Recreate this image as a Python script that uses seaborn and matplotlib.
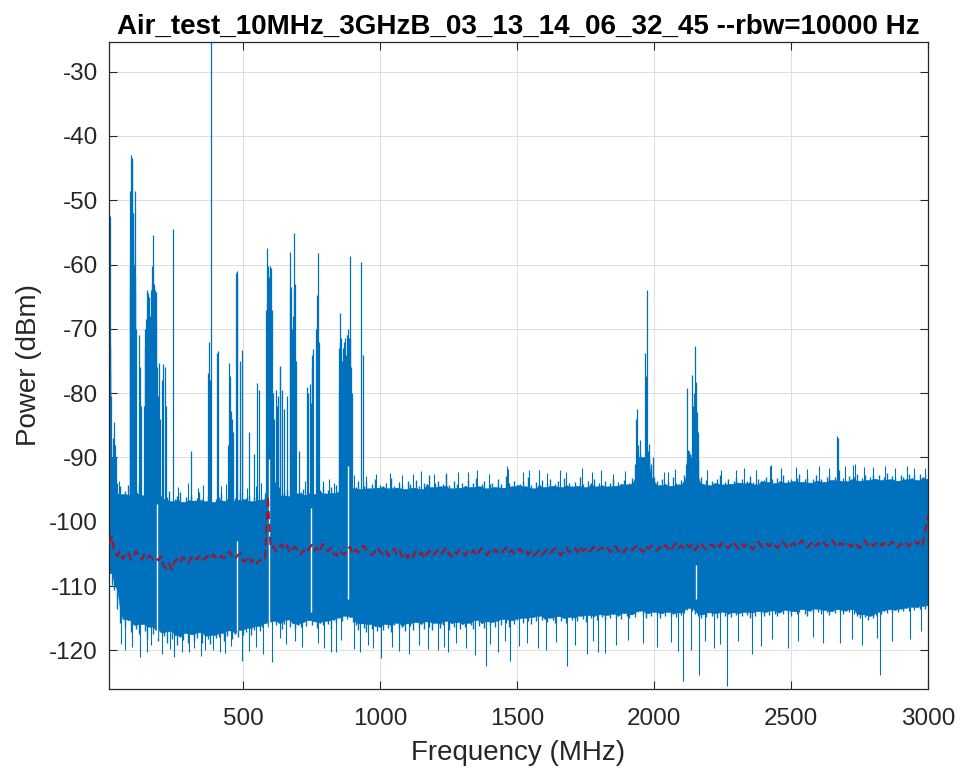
import numpy as np
import matplotlib
matplotlib.use("Agg")
import matplotlib.pyplot as plt
import seaborn as sns

# ---------------- data ----------------
# envelope of the dense spectrum trace, one value every 10 MHz (10 ... 3000 MHz)
freq_mhz = np.arange(10, 3001, 10)

band_hi = [
    -91.5, -93.5, -94.2, -95.6, -94.4, -95.7, -95.2, -94.3, -95.8, -95.4,
    -95.1, -94.2, -95.9, -95.6, -94.8, -96.1, -95.3, -95.8, -94.6, -96.0,
    -96.5, -96.1, -95.2, -96.8, -96.4, -96.0, -95.4, -96.9, -96.2, -96.6,
    -95.9, -96.7, -96.3, -95.3, -96.5, -96.8, -96.0, -95.6, -96.9, -96.4,
    -96.2, -95.5, -96.7, -96.4, -96.9, -95.7, -96.3, -96.6, -95.4, -96.5,
    -96.3, -95.8, -96.8, -96.1, -95.5, -96.6, -96.4, -95.6, -95.9, -95.4,
    -95.1, -95.7, -94.6, -95.9, -95.4, -95.0, -96.0, -95.3, -94.7, -95.6,
    -95.4, -94.9, -95.8, -95.5, -94.6, -95.7, -95.2, -95.0, -94.4, -95.6,
    -95.0, -94.6, -95.5, -94.3, -95.2, -94.8, -95.4, -94.5, -93.9, -94.8,
    -94.6, -93.7, -94.9, -94.4, -93.6, -94.8, -94.2, -93.4, -94.7, -94.3,
    -94.5, -93.9, -94.8, -93.2, -94.4, -94.7, -93.8, -94.3, -94.9, -93.6,
    -94.2, -94.7, -93.5, -94.4, -94.9, -93.9, -94.1, -92.8, -94.6, -94.0,
    -93.7, -94.5, -94.1, -92.6, -94.3, -94.8, -93.6, -94.2, -94.7, -93.9,
    -94.4, -93.5, -94.6, -94.0, -93.2, -94.5, -94.1, -93.7, -94.8, -94.2,
    -93.9, -94.6, -93.4, -94.2, -94.7, -92.9, -94.0, -94.5, -93.6, -94.3,
    -94.1, -93.6, -94.5, -93.0, -94.3, -94.8, -93.8, -94.2, -93.5, -94.6,
    -94.0, -93.3, -94.4, -94.1, -93.7, -94.6, -93.2, -94.3, -93.9, -94.5,
    -93.8, -94.4, -93.1, -94.2, -94.6, -93.7, -94.0, -93.4, -94.5, -93.9,
    -94.3, -93.6, -94.5, -94.0, -93.3, -94.4, -93.8, -94.1, -93.5, -94.2,
    -94.0, -93.2, -91.0, -89.8, -89.4, -89.9, -89.1, -90.2, -91.1, -93.0,
    -93.7, -94.3, -93.4, -94.1, -93.6, -94.4, -93.1, -93.9, -94.2, -93.5,
    -92.8, -90.6, -89.5, -89.3, -89.6, -90.4, -93.0, -94.1, -93.5, -94.3,
    -93.6, -94.0, -93.3, -92.7, -94.2, -93.8, -93.4, -94.1, -93.7, -93.2,
    -93.9, -93.4, -94.0, -93.6, -92.9, -93.8, -94.2, -93.3, -93.7, -93.5,
    -93.1, -93.8, -93.4, -94.0, -93.2, -93.6, -92.8, -93.9, -93.5, -93.3,
    -93.7, -93.2, -92.6, -93.8, -93.4, -93.0, -93.9, -93.3, -92.8, -93.6,
    -93.3, -93.8, -93.0, -92.7, -93.5, -93.1, -92.1, -93.6, -93.2, -93.7,
    -92.9, -93.4, -93.1, -92.5, -93.6, -93.2, -92.8, -93.5, -93.0, -92.7,
    -93.3, -92.8, -93.5, -93.1, -92.4, -93.4, -92.9, -93.2, -93.6, -92.7,
    -93.0, -93.4, -92.6, -93.2, -92.8, -93.5, -92.5, -93.1, -92.9, -93.3,
]

band_lo = [
    -108.0, -109.8, -110.6, -113.5, -115.8, -115.1, -116.4, -115.3, -117.1, -116.0,
    -116.6, -117.4, -115.9, -117.0, -118.2, -116.3, -117.5, -116.8, -118.6, -117.2,
    -117.8, -118.9, -117.0, -118.3, -117.6, -119.1, -117.9, -118.4, -117.3, -118.8,
    -117.5, -118.6, -118.0, -117.2, -118.9, -117.7, -118.3, -119.0, -117.6, -118.1,
    -117.9, -117.3, -118.5, -117.8, -116.9, -118.2, -117.4, -117.9, -116.8, -117.6,
    -117.1, -116.5, -117.6, -116.8, -116.2, -117.0, -116.4, -115.8, -116.3, -115.6,
    -115.4, -116.1, -115.7, -116.6, -115.9, -115.2, -116.3, -115.8, -116.7, -116.0,
    -116.4, -115.6, -116.2, -115.3, -116.0, -115.5, -116.5, -115.7, -116.1, -115.4,
    -115.9, -116.6, -115.2, -115.8, -114.9, -115.5, -114.6, -115.1, -114.8, -115.6,
    -116.1, -116.9, -115.8, -116.5, -117.1, -115.9, -116.6, -116.2, -117.0, -116.4,
    -116.8, -115.9, -116.5, -117.2, -116.1, -115.7, -116.6, -116.3, -117.0, -115.8,
    -116.2, -116.9, -115.6, -116.4, -115.9, -116.7, -115.5, -116.3, -116.8, -115.7,
    -115.9, -116.5, -116.1, -115.4, -116.8, -115.8, -116.3, -115.6, -116.6, -115.9,
    -116.4, -115.7, -116.0, -116.6, -115.3, -116.2, -115.8, -116.5, -115.5, -116.1,
    -115.6, -116.3, -115.4, -116.0, -115.1, -115.8, -116.4, -115.3, -115.9, -115.2,
    -115.0, -115.7, -114.9, -115.5, -115.9, -114.8, -115.4, -114.6, -115.3, -115.1,
    -115.6, -114.9, -115.3, -115.8, -114.7, -115.5, -115.0, -115.7, -114.8, -115.2,
    -114.9, -115.4, -114.6, -115.1, -115.6, -114.5, -115.0, -114.7, -115.3, -114.4,
    -114.8, -115.2, -114.5, -114.9, -114.3, -115.0, -114.6, -115.1, -114.2, -114.7,
    -115.0, -114.4, -114.8, -114.1, -113.8, -114.5, -114.9, -114.2, -114.6, -114.0,
    -114.5, -114.9, -114.2, -114.7, -114.0, -114.6, -114.3, -114.8, -114.1, -114.5,
    -114.2, -113.7, -113.4, -113.9, -114.3, -114.6, -115.0, -114.4, -114.8, -114.1,
    -114.6, -114.2, -114.9, -114.4, -114.0, -114.7, -114.3, -114.8, -114.1, -114.5,
    -114.2, -114.7, -114.0, -114.5, -114.9, -114.1, -114.6, -113.9, -114.4, -114.7,
    -114.0, -114.5, -113.8, -114.3, -114.7, -114.1, -114.4, -113.7, -114.2, -114.6,
    -113.9, -114.4, -114.0, -113.6, -114.3, -114.6, -113.8, -114.2, -113.5, -114.0,
    -114.3, -113.7, -114.1, -114.5, -113.9, -114.2, -113.6, -114.0, -114.4, -113.8,
    -114.1, -113.6, -114.3, -114.7, -115.0, -114.4, -114.8, -115.2, -114.6, -114.9,
    -114.5, -114.0, -114.3, -113.8, -114.2, -113.6, -114.1, -113.7, -114.0, -113.5,
    -113.9, -113.4, -113.8, -113.2, -113.7, -113.3, -113.6, -113.1, -113.5, -113.0,
]

# red dashed average trace, one value every 10 MHz
band_mean = [
    -103.5, -102.3, -104.8, -105.3, -104.6, -105.8, -105.1, -104.7, -105.9, -105.2,
    -104.6, -105.4, -105.9, -105.0, -105.6, -105.3, -105.8, -105.5, -106.0, -105.4,
    -106.9, -107.3, -106.5, -107.5, -106.2, -105.7, -106.3, -105.5, -105.9, -106.4,
    -105.6, -105.2, -105.9, -105.4, -106.1, -105.7, -105.3, -105.8, -105.1, -105.6,
    -105.9, -105.3, -105.7, -105.0, -104.6, -105.4, -105.8, -105.2, -104.9, -106.2,
    -106.0, -105.4, -106.3, -105.8, -106.5, -105.9, -106.2, -105.6, -96.0, -104.1,
    -103.8, -104.6, -104.0, -103.5, -104.3, -103.7, -104.8, -104.2, -103.9, -104.5,
    -105.1, -104.4, -104.9, -104.2, -103.6, -104.5, -104.0, -104.7, -103.4, -104.1,
    -104.6, -104.0, -104.9, -105.3, -104.4, -104.8, -105.1, -104.2, -103.9, -105.0,
    -104.3, -104.8, -104.1, -103.7, -104.5, -104.9, -105.2, -104.6, -104.0, -104.7,
    -105.0, -104.4, -105.3, -104.7, -104.2, -105.1, -104.5, -105.4, -104.8, -105.6,
    -104.9, -105.5, -104.6, -105.2, -104.8, -105.7, -105.0, -104.5, -105.3, -104.9,
    -104.4, -105.1, -104.7, -104.0, -104.9, -105.4, -104.6, -105.0, -104.3, -104.8,
    -105.2, -104.6, -105.0, -104.4, -105.3, -104.7, -104.1, -104.8, -105.2, -104.5,
    -104.9, -104.3, -104.7, -105.1, -104.5, -104.0, -104.8, -104.4, -105.0, -104.6,
    -104.2, -104.8, -104.4, -105.1, -104.6, -105.3, -104.9, -104.5, -105.2, -104.7,
    -104.3, -104.9, -104.5, -104.1, -104.7, -105.2, -104.6, -104.0, -104.8, -104.4,
    -104.1, -104.7, -103.8, -104.5, -104.2, -104.8, -104.4, -103.9, -104.6, -104.3,
    -104.0, -104.5, -104.1, -104.7, -104.3, -103.8, -104.6, -104.2, -104.8, -104.1,
    -103.9, -104.4, -104.0, -103.6, -104.3, -104.7, -103.8, -104.2, -103.7, -104.1,
    -104.5, -103.9, -104.3, -103.6, -104.0, -104.6, -103.8, -103.3, -104.1, -103.7,
    -104.2, -103.6, -104.0, -103.5, -104.4, -103.8, -103.2, -103.9, -104.3, -103.7,
    -103.5, -104.0, -103.4, -103.9, -103.2, -103.7, -104.1, -103.6, -103.1, -103.8,
    -104.2, -103.5, -103.9, -103.3, -103.8, -104.3, -103.6, -103.1, -103.7, -104.0,
    -103.4, -103.8, -103.2, -103.6, -104.1, -103.5, -103.0, -103.7, -104.2, -103.6,
    -103.3, -103.9, -103.4, -102.9, -103.6, -104.0, -103.5, -103.1, -103.8, -103.3,
    -103.7, -103.2, -103.8, -103.4, -102.8, -103.5, -104.0, -103.3, -103.6, -103.1,
    -103.5, -103.9, -103.2, -103.6, -104.1, -103.4, -102.9, -103.6, -103.2, -103.8,
    -103.4, -103.0, -103.7, -103.3, -103.9, -103.5, -103.1, -103.6, -104.0, -103.4,
    -103.6, -103.2, -103.8, -103.3, -102.9, -103.5, -103.1, -103.7, -101.5, -99.0,
]

# narrow carriers rising above the noise band (MHz, dBm)
peak_freq = [
    12, 13, 14, 15, 17, 19, 22, 24, 27, 29, 32, 36, 40,
    85, 87, 88, 89, 90, 91, 92, 93, 94, 95, 96, 97, 98, 99, 100, 101, 102, 103, 104, 105, 106, 107,
    118, 122, 126, 137, 140, 143, 146, 148, 152, 155, 160, 163, 166, 168, 170, 172, 174, 176, 178,
    181, 183, 186, 190, 193, 197, 203, 208, 214, 218,
    245, 309, 372, 376, 380, 384, 403, 408, 446, 449, 452, 455, 458, 462, 475, 477, 479, 490, 494,
    520, 538, 550, 556,
    583, 585, 587, 589, 591, 593, 595, 597, 599, 601, 603, 605,
    610, 614, 618, 622, 628, 633, 636, 642, 648, 660, 669, 672, 675, 678, 681, 684, 687, 690, 693, 703,
    733, 738, 742, 746, 750, 752, 754, 767, 770, 774, 777,
    849, 851, 853, 855, 857, 860, 863, 866, 869, 872, 875, 878, 881, 884, 887, 889, 891, 894, 896,
    929, 938,
    1933, 1937, 1940, 1945, 1950, 1955, 1962, 1966, 1970, 1973, 1976, 1980, 1983, 1990, 1995,
    2115, 2120, 2123, 2127, 2135, 2140, 2143, 2147, 2150, 2154, 2157, 2160, 2668, 2671, 2674,
]
peak_dbm = [
    -52.5, -72, -73, -77, -80.5, -88, -90, -87, -88, -84.5, -88, -90, -94,
    -60, -64, -48.5, -63, -62, -58, -43, -43.5, -44.3, -60, -52, -52, -56, -62, -60, -64, -63, -62, -48.5, -62, -64, -70,
    -71, -76, -82, -82, -73, -70, -68.5, -64, -64.5, -65, -68, -64, -60.3, -63, -63, -55.4, -63, -63.5, -64,
    -64.2, -69, -76, -80.5, -75.3, -84, -78, -75.4, -76, -82,
    -54.5, -89, -76.8, -72, -78, -25.4, -73.7, -73.5, -88, -75.3, -77.4, -82.8, -84, -86, -61.3, -62, -61, -75, -73.3,
    -86, -89.5, -78.4, -79.5,
    -67, -66, -57.4, -64, -60.3, -62, -66, -60.3, -65, -60.5, -67, -67,
    -80, -84, -79.5, -82, -80.5, -75.8, -76, -79.5, -82.5, -80.5, -64, -58, -63.5, -70, -68, -64, -55.1, -63, -75, -89,
    -79, -80, -78.5, -81.5, -76, -74, -73.2, -70, -64.8, -58.2, -72,
    -79.5, -73, -67.5, -72, -71.5, -75, -73, -79, -72, -71.5, -74, -71, -72.5, -70, -71.5, -58.6, -71.5, -76, -80,
    -59.6, -74,
    -84, -82.4, -88, -90, -87.3, -91, -90, -73.7, -77.4, -63.9, -89, -90, -87.9, -91, -90,
    -91, -79.2, -88.8, -89, -90, -77.2, -82, -80, -72.6, -78.2, -83, -86, -86.6, -87, -92,
]

# thin tips sticking out above the band edge (MHz, dBm)
up_freq = [45, 205, 262, 298, 335, 352, 418, 436, 512, 545, 566, 615, 648, 705, 724, 790, 812, 833,
           905, 948, 985, 1035, 1078, 1120, 1150, 1195, 1241, 1285, 1320, 1352, 1398, 1464, 1467,
           1520, 1545, 1580, 1610, 1655, 1680, 1736, 1772, 1805, 1850, 1893, 2035, 2050, 2078, 2195,
           2245, 2300, 2330, 2372, 2423, 2426, 2465, 2518, 2560, 2602, 2640, 2698, 2726, 2732, 2765,
           2800, 2842, 2880, 2925, 2950, 2990]
up_dbm = [-93.6, -94.2, -94.6, -94.0, -94.8, -94.3, -94.5, -94.1, -94.7, -94.4, -93.9, -93.8, -93.5,
          -93.9, -93.6, -93.7, -93.3, -93.9, -92.8, -92.9, -92.6, -92.4, -92.7, -92.6, -92.1, -92.6,
          -92.4, -92.3, -92.3, -92.0, -92.5, -91.4, -91.8, -92.2, -91.9, -92.0, -92.4, -92.0, -92.3,
          -91.7, -92.3, -91.9, -92.5, -92.1, -92.2, -92.2, -91.8, -92.0, -91.9, -92.0, -91.6, -92.0,
          -91.3, -91.1, -91.7, -91.5, -91.8, -91.4, -91.7, -91.3, -91.1, -91.0, -91.5, -91.5, -91.4,
          -91.6, -91.3, -91.7, -91.6]

# thin dips below the band (MHz, dBm)
down_freq = [55, 67, 95, 122, 148, 165, 205, 232, 248, 275, 301, 322, 345, 361, 388, 416, 432, 455,
             495, 522, 548, 572, 605, 636, 655, 688, 715, 772, 795, 819, 837, 858, 905, 928, 955,
             972, 1002, 1045, 1068, 1106, 1142, 1175, 1210, 1232, 1247, 1278, 1312, 1345, 1387,
             1402, 1430, 1455, 1473, 1508, 1535, 1578, 1607, 1642, 1681, 1712, 1754, 1778, 1797,
             1821, 1862, 1905, 1960, 2010, 2062, 2088, 2105, 2133, 2164, 2185, 2219, 2240, 2266,
             2305, 2359, 2390, 2430, 2488, 2525, 2580, 2615, 2677, 2722, 2760, 2812, 2826, 2868,
             2935, 2976]
down_dbm = [-119.0, -119.9, -119.5, -121.0, -120.3, -119.2, -120.6, -119.8, -121.0, -120.2, -120.3,
            -119.6, -120.8, -119.9, -119.9, -120.2, -120.4, -119.3, -121.7, -120.1, -119.5, -120.6,
            -121.8, -118.0, -119.0, -118.6, -119.4, -118.9, -119.6, -120.2, -120.2, -118.4, -119.8,
            -120.3, -119.1, -119.6, -121.2, -119.5, -120.1, -120.5, -119.2, -119.8, -119.9, -119.4,
            -120.2, -118.9, -119.7, -120.7, -122.5, -119.0, -120.2, -118.6, -121.7, -119.3, -118.8,
            -119.6, -119.9, -118.7, -122.5, -119.1, -120.6, -118.5, -120.2, -120.4, -119.2, -118.4,
            -118.9, -119.5, -118.7, -120.1, -124.8, -120.0, -123.8, -118.6, -119.6, -119.0, -125.6,
            -118.5, -120.5, -119.3, -118.2, -119.6, -118.6, -117.9, -118.8, -118.9, -118.3, -119.1,
            -118.0, -123.8, -118.6, -118.2, -117.0]

# empty slots inside the band at strong carriers (MHz, top dBm, bottom dBm)
gap_freq = [186, 477, 593, 746, 884, 2153]
gap_top = [-97.3, -103.0, -90.3, -97.8, -91.4, -106.7]
gap_bottom = [-118.0, -117.0, -121.0, -114.1, -112.0, -112.0]

title_text = "Air_test_10MHz_3GHzB_03_13_14_06_32_45 --rbw=10000 Hz"
x_ticks = [500, 1000, 1500, 2000, 2500, 3000]
y_ticks = [-120, -110, -100, -90, -80, -70, -60, -50, -40, -30]

# ---------------- drawing ----------------
sns.set_theme(style="whitegrid")
plt.rcParams["font.family"] = ["Liberation Sans", "DejaVu Sans"]

BLUE = "#0072BD"
RED = "#A2142F"
INK = "#262626"

fig = plt.figure(figsize=(9.59, 7.75), dpi=100)
fig.patch.set_facecolor("white")
ax = fig.add_axes([109 / 959, 86 / 775, 819 / 959, 647 / 775])
ax.set_facecolor("white")

# solid body of the band: the part every neighbouring sample covers
hi = np.asarray(band_hi)
lo = np.asarray(band_lo)
hi_pad = np.concatenate([[hi[0]], hi, [hi[-1]]])
lo_pad = np.concatenate([[lo[0]], lo, [lo[-1]]])
core_hi = np.minimum.reduce([hi_pad[:-2], hi_pad[1:-1], hi_pad[2:]])
core_lo = np.maximum.reduce([lo_pad[:-2], lo_pad[1:-1], lo_pad[2:]])
ax.fill_between(freq_mhz, core_lo, core_hi, color=BLUE, linewidth=0.3, edgecolor=BLUE, zorder=2)
# each sample as a thin vertical stroke reaching its own extremes
ax.vlines(freq_mhz, lo, hi, color=BLUE, linewidth=1.0, zorder=2)
ax.vlines(up_freq, -97, up_dbm, color=BLUE, linewidth=0.8, zorder=2)
ax.vlines(down_freq, -110, down_dbm, color=BLUE, linewidth=0.8, zorder=2)
ax.vlines(peak_freq, -100, peak_dbm, color=BLUE, linewidth=0.9, zorder=2)
ax.vlines(gap_freq, gap_bottom, gap_top, color="white", linewidth=1.0, zorder=3)

sns.lineplot(x=freq_mhz, y=band_mean, ax=ax, color=RED, linewidth=1.5, zorder=4)
ax.lines[-1].set_linestyle((0, (4, 2.2)))

ax.set_xlim(10, 3000)
ax.set_ylim(-126, -25.4)
ax.set_xticks(x_ticks)
ax.set_yticks(y_ticks)
ax.set_xticklabels([str(t) for t in x_ticks])
ax.set_yticklabels([str(t) for t in y_ticks])

ax.grid(True, color="#dedede", linewidth=0.7)
ax.set_axisbelow(True)
for s in ax.spines.values():
    s.set_visible(True)
    s.set_color(INK)
    s.set_linewidth(0.9)

ax.tick_params(axis="both", which="major", direction="in", length=6, width=0.8,
               color=INK, labelcolor=INK, labelsize=17.5,
               top=True, right=True, bottom=True, left=True)
ax.tick_params(axis="x", pad=14)
ax.tick_params(axis="y", pad=8)

ax.set_xlabel("Frequency (MHz)", fontsize=20, color=INK, labelpad=7)
ax.set_ylabel("Power (dBm)", fontsize=20, color=INK, labelpad=5)
ax.set_title(title_text, fontsize=20, fontweight="bold", color="black", pad=6)

fig.savefig("out.png", dpi=100)
